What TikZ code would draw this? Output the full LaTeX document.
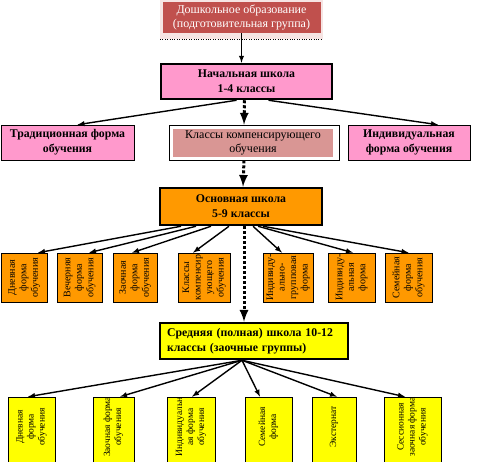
\documentclass[tikz,border=0pt]{standalone}
\usepackage{fontspec}
\setmainfont{Liberation Serif}
\usetikzlibrary{calc,arrows}
\definecolor{doshred}{HTML}{C0504D}
\definecolor{doshbg}{HTML}{F6E4E3}
\definecolor{pinkfill}{HTML}{FF99CC}
\definecolor{kompfill}{HTML}{D99694}
\definecolor{orfill}{HTML}{FF9900}
\definecolor{yefill}{HTML}{FFFF00}
\newcommand{\vlines}[1]{\rotatebox{90}{\begin{tabular}{@{}c@{}}#1\end{tabular}}}
\begin{document}
\begin{tikzpicture}[x=1pt,y=-1pt,
  bigbox/.style={draw, line width=2.5pt, inner sep=0pt, align=center,
    font=\bfseries\fontsize{11.8}{15}\selectfont},
  formbox/.style={draw, line width=0.6pt, inner sep=0pt, align=center,
    fill=pinkfill, minimum height=35, font=\bfseries\fontsize{11.8}{15}\selectfont},
  obox/.style={draw, line width=0.6pt, inner sep=0pt, fill=orfill,
    minimum height=49, font=\fontsize{10}{11.5}\selectfont},
  ybox/.style={draw, line width=0.6pt, inner sep=0pt, fill=yefill, minimum height=70},
  ytext/.style={inner sep=0pt, yshift=5pt, font=\fontsize{9.5}{11}\selectfont},
  arr/.style={-latex, line width=1.4pt},
  dotarr/.style={-latex, line width=3pt, dash pattern=on 3pt off 2pt}]
  \useasboundingbox (0,0) rectangle (481,461);
  \fill[doshbg] (160,0) rectangle (323,39);
  \draw[dotted] (160,39) -- (323,39);
  \node[fill=doshred, text=white, minimum width=158, minimum height=31, inner sep=0pt,
    align=center, font=\fontsize{12}{14.5}\selectfont] (dosh) at (241.5,17.5)
    {Дошкольное образование\\(подготовительная группа)};
  \node[bigbox, fill=pinkfill, minimum width=171, minimum height=35] (nach) at (246.5,81.5)
    {Начальная школа\\1-4 классы};
  \node[formbox, minimum width=133] (trad) at (67.5,142.5) {Традиционная форма\\обучения};
  \node[draw, line width=0.6pt, fill=white, minimum width=170, minimum height=35] (kompframe) at (254,142.5) {};
  \node[fill=kompfill, minimum width=160, minimum height=28, inner sep=0pt, align=center,
    font=\fontsize{12}{14.5}\selectfont] (komp) at (253,143) {Классы компенсирующего\\обучения};
  \node[formbox, minimum width=122] (indiv) at (409,142.5) {Индивидуальная\\форма обучения};
  \node[bigbox, fill=orfill, minimum width=162, minimum height=37] (osn) at (241,206.5)
    {Основная школа\\5-9 классы};
  \node[obox, minimum width=46] (o1) at (24,277.5) {\vlines{Дневная\\форма\\обучения}};
  \node[obox, minimum width=45] (o2) at (79.5,277.5) {\vlines{Вечерняя\\форма\\обучения}};
  \node[obox, minimum width=44] (o3) at (135,277.5) {\vlines{Заочная\\форма\\обучения}};
  \node[obox, minimum width=52] (o4) at (204,277.5) {\vlines{Классы\\компенсир\\ующего\\обучения}};
  \node[obox, minimum width=50] (o5) at (288,277.5) {\vlines{Индивиду-\\ально-\\групповая\\форма}};
  \node[obox, minimum width=47] (o6) at (351.5,277.5) {\vlines{Индивиду-\\альная\\форма}};
  \node[obox, minimum width=47] (o7) at (408.5,277.5) {\vlines{Семейная\\форма\\обучения}};
  \node[bigbox, fill=yefill, minimum width=188, minimum height=36, align=left,
    text width=174, inner xsep=7pt] (sred) at (254,341)
    {Средняя (полная) школа 10-12\\классы (заочные группы)};
  \node[ybox, minimum width=47] (y1) at (31.5,432) {};
  \node[ybox, minimum width=41] (y2) at (113.5,432) {};
  \node[ybox, minimum width=48] (y3) at (191,432) {};
  \node[ybox, minimum width=47] (y4) at (268.5,432) {};
  \node[ybox, minimum width=44] (y5) at (334,432) {};
  \node[ybox, minimum width=57] (y6) at (412.5,432) {};
  \node[ytext] (y1t) at (y1.center) {\vlines{Дневная\\форма\\обучения}};
  \node[ytext] (y2t) at (y2.center) {\vlines{Заочная форма\\обучения}};
  \node[ytext] (y3t) at (y3.center) {\vlines{Индивидуальн\\ая форма\\обучения}};
  \node[ytext] (y4t) at (y4.center) {\vlines{Семейная\\форма}};
  \node[ytext] (y5t) at (y5.center) {\vlines{Экстернат}};
  \node[ytext] (y6t) at (y6.center) {\vlines{Сессионная\\заочная форма\\обучения}};
  \coordinate (kompin) at ($(kompframe.north)+(-10,0)$);
  \coordinate (hub) at ($(sred.south)+(-12,0)$);
  \draw[arr] (dosh.south) -- (dosh.south |- nach.north);
  \draw[arr] ([xshift=-10pt]nach.south) -- ([xshift=10pt]trad.north);
  \draw[arr] ([xshift=22pt]nach.south) -- ([xshift=29pt]indiv.north);
  \draw[dotarr] ([xshift=-2pt]nach.south) -- (kompin);
  \draw[dotarr] ([xshift=-10pt]kompframe.south) -- ([xshift=2pt]osn.north);
  \draw[arr] ([xshift=-60pt]osn.south) -- ([xshift=14pt]o1.north);
  \draw[arr] ([xshift=-45pt]osn.south) -- ([xshift=9.5pt]o2.north);
  \draw[arr] ([xshift=-30pt]osn.south) -- ([xshift=-3pt]o3.north);
  \draw[arr] ([xshift=-12pt]osn.south) -- ([xshift=-11pt]o4.north);
  \draw[arr] ([xshift=12pt]osn.south) -- ([xshift=-6pt]o5.north);
  \draw[arr] ([xshift=17pt]osn.south) -- ([xshift=1.5pt]o6.north);
  \draw[arr] ([xshift=22pt]osn.south) -- (o7.north);
  \draw[dotarr] ([xshift=3pt]osn.south) -- ([xshift=-10pt]sred.north);
  \draw[arr] (hub) -- ([xshift=-3.5pt]y1.north);
  \draw[arr] (hub) -- ([xshift=6.5pt]y2.north);
  \draw[arr] (hub) -- ([xshift=1pt]y3.north);
  \draw[arr] (hub) -- ([xshift=-8.5pt]y4.north);
  \draw[arr] (hub) -- ([xshift=3pt]y5.north);
  \draw[arr] (hub) -- ([xshift=-7.5pt]y6.north);
\end{tikzpicture}
\end{document}
